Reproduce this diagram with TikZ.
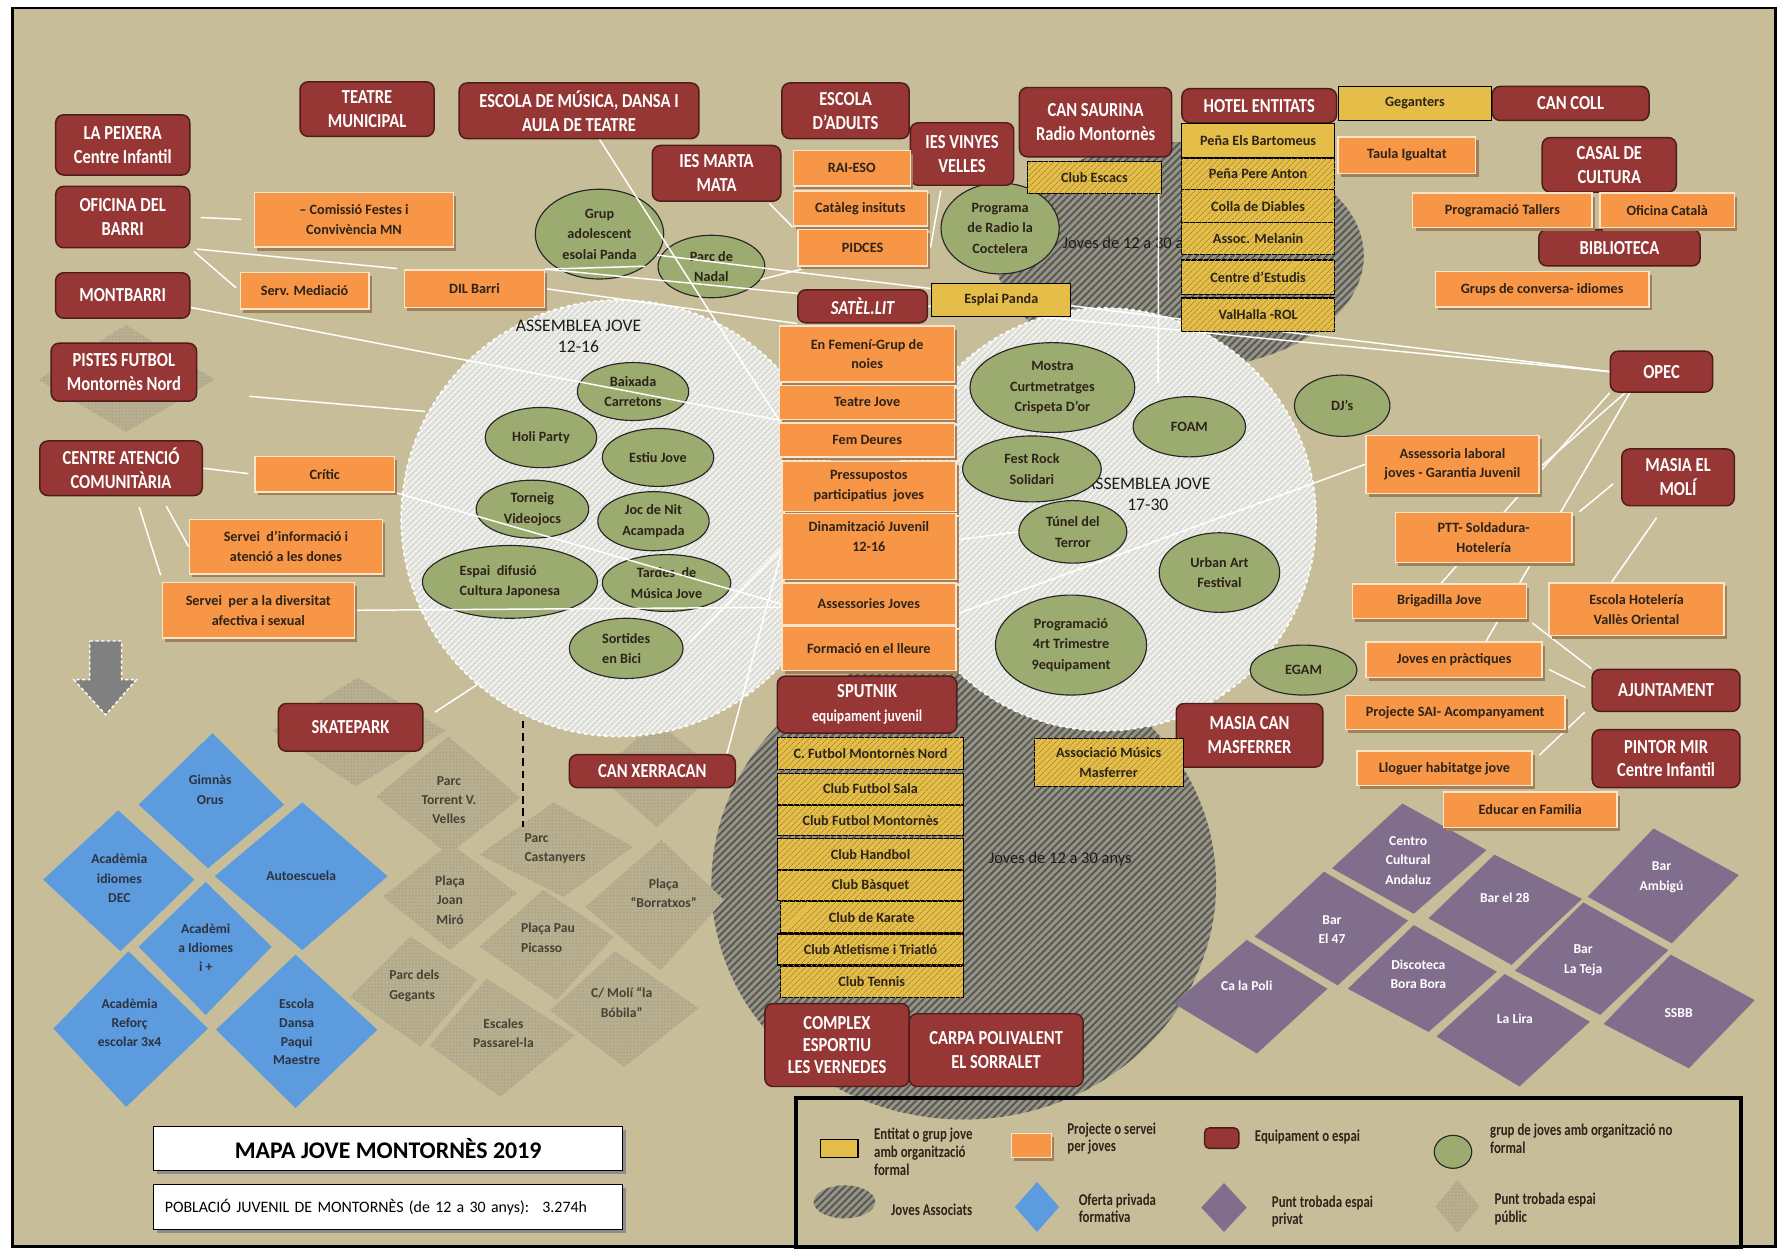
\documentclass[tikz,border=0pt]{standalone}
\usepackage{fontspec}
\setmainfont{Carlito}
\newfontfamily\cf[FakeStretch=0.83]{Carlito}
\newfontfamily\cfl[FakeStretch=0.78]{Carlito}
\usetikzlibrary{shapes.geometric,shadows,patterns.meta,calc}
\definecolor{bgk}{RGB}{199,190,153}
\definecolor{eqc}{RGB}{150,55,53}
\definecolor{eqd}{RGB}{80,28,26}
\definecolor{prc}{RGB}{247,150,70}
\definecolor{prd}{RGB}{253,228,200}
\definecolor{shc}{RGB}{160,128,88}
\definecolor{ylc}{RGB}{228,190,72}
\definecolor{ylh}{RGB}{170,140,50}
\definecolor{grc}{RGB}{156,172,112}
\definecolor{txt}{RGB}{45,35,25}
\definecolor{blc}{RGB}{92,156,222}
\definecolor{puc}{RGB}{128,110,140}
\definecolor{pbc}{RGB}{184,175,144}
\definecolor{pbd}{RGB}{162,153,124}
\definecolor{cic}{RGB}{222,222,216}
\definecolor{blb}{RGB}{150,148,136}
\definecolor{bll}{RGB}{88,88,80}
\definecolor{ptc}{RGB}{72,65,52}
\definecolor{btc}{RGB}{45,50,65}
\definecolor{arrc}{RGB}{128,128,128}
\definecolor{labc}{RGB}{30,28,25}
\newcommand\myeqf{\cf\bfseries\fontsize{17.5}{21}\selectfont}
\newcommand\myprf{\bfseries\fontsize{12.5}{17.5}\selectfont}
\newcommand\mygrf{\bfseries\fontsize{12.5}{18}\selectfont}
\newcommand\mydtf{\bfseries\fontsize{12}{17}\selectfont}
\newcommand\mylgf{\cfl\bfseries\fontsize{14.5}{15.5}\selectfont}
\pgfdeclarelayer{bgl}
\pgfdeclarelayer{midl}
\pgfdeclarelayer{lnl}
\pgfsetlayers{bgl,midl,lnl,main}
\begin{document}
\begin{tikzpicture}[x=1pt,y=-1pt,
  eq/.style={draw=eqd, fill=eqc, rounded corners=7pt, line width=1.3pt, text=white, align=center, font=\myeqf, inner sep=1pt},
  pr/.style={draw=prd, fill=prc, line width=1.3pt, text=txt, align=center, font=\myprf, inner sep=1pt, drop shadow={shadow xshift=2.5pt, shadow yshift=-3pt, fill=shc, opacity=1}},
  yb/.style={draw=black, fill=ylc, line width=1pt, text=txt, align=center, font=\myprf, inner sep=1pt},
  ybh/.style={yb, postaction={pattern={Lines[angle=45,distance=4pt,line width=0.9pt]}, pattern color=ylh}},
  gr/.style={ellipse, draw=black!85, fill=grc, line width=1pt, text=txt, align=center, font=\mygrf, inner sep=0pt},
  cn/.style={draw=white, line width=1.3pt},
  pub/.style={fill=pbc, postaction={pattern={Dots[distance=3pt,radius=0.55pt]}, pattern color=pbd}},
  blu/.style={fill=blc},
  pur/.style={fill=puc},
  ptx/.style={align=center, font=\mydtf, text=ptc},
  btx/.style={align=center, font=\mydtf, text=btc},
  utx/.style={align=center, font=\mydtf, text=white},
  blob/.style={fill=blb, postaction={pattern={Lines[angle=45,distance=4.5pt,line width=1.7pt]}, pattern color=bll}},
  asm/.style={fill=cic, postaction={pattern={Lines[angle=45,distance=4pt,line width=1.3pt]}, pattern color=white}},
  lg/.style={anchor=west, align=left, font=\mylgf, text=txt, inner sep=0pt},
  lab/.style={align=center, font=\fontsize{15.5}{18}\selectfont, text=labc},
  jlab/.style={font=\fontsize{14.5}{17}\selectfont, text=labc}
]
\useasboundingbox (0,0) rectangle (1568,1100);
\begin{pgfonlayer}{bgl}
\fill[white] (0,0) rectangle (1568,1100);
\filldraw[fill=bgk, draw=black, line width=2.5pt] (11,7) rectangle (1562,1097);
% joves associats
\path[blob] (1038,225) ellipse [x radius=162, y radius=100];
\path[blob] (848,778) ellipse [x radius=222, y radius=207];
\node[jlab] (jtop) at (998,215) {Joves de 12 a 30 anys};
\node[jlab] (jbot) at (933,756) {Joves de 12 a 30 anys};
% public spaces
\path[pub] (111,286) -- (189,334) -- (111,380) -- (34,334) -- cycle;
\path[pub] (315,596) -- (392,643) -- (313,692) -- (240,643) -- cycle;
\path[pub] (394.5,648) -- (458,702) -- (394.5,752) -- (331,701) -- cycle;
\path[pub] (487,706) -- (557,745) -- (496,789) -- (422,752) -- cycle;
\path[pub] (396,742) -- (455,786) -- (396,836) -- (337,789) -- cycle;
\path[pub] (582,739) -- (637,792) -- (581,854) -- (515,798) -- cycle;
\path[pub] (478,783) -- (540,824) -- (490,880) -- (422,833) -- cycle;
\path[pub] (361,824) -- (420,862) -- (370,921) -- (308,877) -- cycle;
\path[pub] (428,861) -- (506,911) -- (440,965) -- (378,920) -- cycle;
\path[pub] (541,837) -- (615,887) -- (549,939) -- (484,889) -- cycle;
\path[pub] (578,635) -- (631,678) -- (578,728) -- (525,681) -- cycle;
% private formative
\path[blu] (187,645) -- (250,708) -- (183,764) -- (122,708) -- cycle;
\path[blu] (104,713) -- (171,774) -- (106,837) -- (38,774) -- cycle;
\path[blu] (266,706) -- (341,771) -- (266,836) -- (189,771) -- cycle;
\path[blu] (181,776) -- (239,833) -- (181,893) -- (122,833) -- cycle;
\path[blu] (113,837) -- (183,905) -- (111,974) -- (47,905) -- cycle;
\path[blu] (260,840) -- (332,906) -- (260,975) -- (190,906) -- cycle;
% private meeting points
\path[pur] (1234,707) -- (1308,748) -- (1244,804) -- (1172,764) -- cycle;
\path[pur] (1165,767) -- (1239,810) -- (1177,867) -- (1104,824) -- cycle;
\path[pur] (1097,827) -- (1168,870) -- (1106,927) -- (1033,883) -- cycle;
\path[pur] (1315,752) -- (1392,791) -- (1330,849) -- (1257,808) -- cycle;
\path[pur] (1244,814) -- (1317,855) -- (1257,908) -- (1186,870) -- cycle;
\path[pur] (1455,729) -- (1530,770) -- (1471,830) -- (1397,789) -- cycle;
\path[pur] (1393,794) -- (1468,836) -- (1408,893) -- (1333,854) -- cycle;
\path[pur] (1324,857) -- (1399,899) -- (1337,956) -- (1264,912) -- cycle;
\path[pur] (1470,840) -- (1544,880) -- (1486,940) -- (1411,901) -- cycle;
% assemblies
\path[asm] (545,456) circle [radius=192];
\path[asm] (972,457) circle [radius=186];
\draw[white, dashed, line width=1.5pt] (545,456) circle [radius=192];
\draw[white, dashed, line width=1.5pt] (972,457) circle [radius=186];
\node[lab] (lab1216) at (509,296) {ASSEMBLEA JOVE\\12-16};
\node[lab] (lab1730) at (1010,435) {ASSEMBLEA JOVE\\17-30};
\draw[black, dash pattern=on 7pt off 4pt, line width=1.3pt] (460,634) -- (460,728);
\end{pgfonlayer}

% informal groups
\begin{pgfonlayer}{midl}
\node[gr, minimum width=113, minimum height=79] (grupado) at (527.5,206) {Grup\\adolescent\\esolai Panda};
\node[gr, minimum width=94, minimum height=55] (parcnadal) at (626,234.5) {Parc de\\Nadal};
\node[gr, minimum width=104, minimum height=80] (radio) at (880,201) {Programa\\de Radio la\\Coctelera};
\node[gr, minimum width=98, minimum height=51] (baixada) at (557,344.5) {Baixada\\Carretons};
\node[gr, minimum width=98, minimum height=53] (holi) at (476,385) {Holi Party};
\node[gr, minimum width=98, minimum height=51] (estiu) at (579,402.5) {Estiu Jove};
\node[gr, minimum width=99, minimum height=51] (torneig) at (468.5,448) {Torneig\\Videojocs};
\node[gr, minimum width=98, minimum height=52] (jocnit) at (575,458.6) {Joc de Nit\\Acampada};
\node[gr, minimum width=154, minimum height=64, align=left] (espai) at (448.7,512) {Espai \ difusió\\Cultura Japonesa};
\node[gr, minimum width=113, minimum height=50] (tardes) at (586.5,513) {Tardes \ de\\Música Jove};
\node[gr, minimum width=100, minimum height=53, align=left] (sortides) at (551,570.5) {Sortides\\en Bici};
\node[gr, minimum width=145, minimum height=79] (mostra) at (926,341) {Mostra\\Curtmetratges\\Crispeta D’or};
\node[gr, minimum width=99, minimum height=53] (foam) at (1046.5,375.5) {FOAM};
\node[gr, minimum width=122, minimum height=58] (festrock) at (908,412.6) {Fest Rock\\Solidari};
\node[gr, minimum width=95, minimum height=55] (tunel) at (944,468) {Túnel del\\Terror};
\node[gr, minimum width=106, minimum height=70] (urban) at (1073,503.8) {Urban Art\\Festival};
\node[gr, minimum width=133, minimum height=88] (prog4rt) at (942.4,567.6) {Programació\\4rt Trimestre\\9equipament};
\node[gr, minimum width=94, minimum height=44] (egam) at (1147,589.6) {EGAM};
\node[gr, minimum width=84, minimum height=54] (djs) at (1181,357) {DJ’s};
\end{pgfonlayer}

% texts of meeting points
\node[ptx] (ttorrent) at (395,704) {Parc\\Torrent V.\\Velles};
\node[ptx, anchor=west, align=left] (tcastan) at (458,747) {Parc\\Castanyers};
\node[ptx] (tmiro) at (396,792) {Plaça\\Joan\\Miró};
\node[ptx] (tborrat) at (584,786) {Plaça\\“Borratxos”};
\node[ptx, anchor=west, align=left] (tpicasso) at (455,825) {Plaça Pau\\Picasso};
\node[ptx, anchor=west, align=left] (tgegants) at (339,867.5) {Parc dels\\Gegants};
\node[ptx] (tescales) at (443,909) {Escales\\Passarel-la};
\node[ptx] (tmoli) at (547,882) {C/ Molí “la\\Bóbila”};
\node[btx] (tgimnas) at (185,695) {Gimnàs\\Orus};
\node[btx] (tdec) at (105,773) {Acadèmia\\idiomes\\DEC};
\node[btx] (tauto) at (265,771) {Autoescuela};
\node[btx] (tidiomes) at (181,834) {Acadèmi\\a Idiomes\\i +};
\node[btx] (treforc) at (114,900) {Acadèmia\\Reforç\\escolar 3x4};
\node[btx, font=\bfseries\fontsize{12}{16.5}\selectfont] (tdansa) at (261,908) {Escola\\Dansa\\Paqui\\Maestre};
\node[utx] (tcca) at (1239,757) {Centro\\Cultural\\Andaluz};
\node[utx] (tb47) at (1172,818) {Bar\\El 47};
\node[utx] (tpoli) at (1097,867) {Ca la Poli};
\node[utx] (tb28) at (1324,790) {Bar el 28};
\node[utx] (tbora) at (1248,857) {Discoteca\\Bora Bora};
\node[utx] (tamb) at (1462,772) {Bar\\Ambigú};
\node[utx] (tteja) at (1393,845) {Bar\\La Teja};
\node[utx] (tlira) at (1333,896) {La Lira};
\node[utx] (tssbb) at (1477,891) {SSBB};

% equipments
\node[eq, minimum width=118, minimum height=53] (peixera) at (108,127.5) {LA PEIXERA\\Centre Infantil};
\node[eq, minimum width=118, minimum height=48] (teatre) at (323,96) {TEATRE\\MUNICIPAL};
\node[eq, minimum width=211, minimum height=49] (escmus) at (509.5,97.5) {ESCOLA DE MÚSICA, DANSA I\\AULA DE TEATRE};
\node[eq, minimum width=112, minimum height=49] (escad) at (744,97.5) {ESCOLA\\D’ADULTS};
\node[eq, minimum width=113, minimum height=49] (iesmarta) at (630.5,152.5) {IES MARTA\\MATA};
\node[eq, minimum width=91, minimum height=55] (iesvinyes) at (846.5,135.5) {IES VINYES\\VELLES};
\node[eq, minimum width=134, minimum height=61] (cansaurina) at (964,107.5) {CAN SAURINA\\Radio Montornès};
\node[eq, minimum width=136, minimum height=30] (hotel) at (1108,93) {HOTEL ENTITATS};
\node[eq, minimum width=138, minimum height=30] (cancoll) at (1382,91) {CAN COLL};
\node[eq, minimum width=118, minimum height=48] (casal) at (1416,145) {CASAL DE\\CULTURA};
\node[eq, minimum width=142, minimum height=32] (biblio) at (1425,218) {BIBLIOTECA};
\node[eq, minimum width=118, minimum height=54] (oficina) at (108,191) {OFICINA DEL\\BARRI};
\node[eq, minimum width=118, minimum height=40] (montbarri) at (108,260) {MONTBARRI};
\node[eq, minimum width=128, minimum height=51] (pistes) at (109,327.5) {PISTES FUTBOL\\Montornès Nord};
\node[eq, minimum width=143, minimum height=48] (centre) at (106.5,412) {CENTRE ATENCIÓ\\COMUNITÀRIA};
\node[eq, minimum width=114, minimum height=29] (satelit) at (759,269.5) {\itshape SATÈL.LIT};
\node[eq, minimum width=90, minimum height=36] (opec) at (1462,327) {OPEC};
\node[eq, minimum width=99, minimum height=50] (masiamoli) at (1476.5,420) {MASIA EL\\MOLÍ};
\node[eq, minimum width=130, minimum height=37] (ajunt) at (1466,607.5) {AJUNTAMENT};
\node[eq, minimum width=130, minimum height=51] (pintor) at (1466,667.5) {PINTOR MIR\\Centre Infantil};
\node[eq, minimum width=129, minimum height=56] (masiacan) at (1099.5,647) {MASIA CAN\\MASFERRER};
\node[eq, minimum width=158, minimum height=50] (sputnik) at (763,620) {SPUTNIK\\{\fontsize{14.5}{16}\selectfont equipament juvenil}};
\node[eq, minimum width=127, minimum height=42] (skate) at (308.5,640) {SKATEPARK};
\node[eq, minimum width=146, minimum height=29] (xerracan) at (574,678.5) {CAN XERRACAN};
\node[eq, minimum width=127, minimum height=73, font=\cf\bfseries\fontsize{17.5}{19}\selectfont] (complex) at (736.5,919.5) {COMPLEX\\ESPORTIU\\LES VERNEDES};
\node[eq, minimum width=153, minimum height=64] (carpa) at (876.5,924) {CARPA POLIVALENT\\EL SORRALET};

% projects
\node[pr, minimum width=175, minimum height=48] (comissio) at (311.5,193.5) {– Comissió Festes i\\Convivència MN};
\node[pr, minimum width=113, minimum height=32] (servmed) at (268,256) {Serv. Mediació};
\node[pr, minimum width=123, minimum height=33] (dil) at (417.5,254) {DIL Barri};
\node[pr, minimum width=103, minimum height=31] (raieso) at (749.5,148) {RAI-ESO};
\node[pr, minimum width=118, minimum height=31] (cataleg) at (757,183.5) {Catàleg insituts};
\node[pr, minimum width=114, minimum height=32] (pidces) at (759,218) {PIDCES};
\node[pr, minimum width=121, minimum height=32] (taula) at (1238,136.5) {Taula Igualtat};
\node[pr, minimum width=158, minimum height=30] (progtallers) at (1322,185) {Programació Tallers};
\node[pr, minimum width=118, minimum height=30] (oficat) at (1467,185) {Oficina Català};
\node[pr, minimum width=188, minimum height=31] (grups) at (1357,254.5) {Grups de conversa- idiomes};
\node[pr, minimum width=123, minimum height=31] (critic) at (285.7,417.3) {Crític};
\node[pr, minimum width=170, minimum height=48] (dones) at (251.6,481) {Servei \ d’informació i\\atenció a les dones};
\node[pr, minimum width=169, minimum height=49] (diversitat) at (227.3,537) {Servei \ per a la diversitat\\afectiva i sexual};
\node[pr, minimum width=154, minimum height=49] (femeni) at (763,311.5) {En Femení-Grup de\\noies};
\node[pr, minimum width=154, minimum height=30] (teatrejove) at (763,354) {Teatre Jove};
\node[pr, minimum width=154, minimum height=30] (femdeures) at (763,387) {Fem Deures};
\node[pr, minimum width=153, minimum height=44] (pressup) at (764.5,428) {Pressupostos\\participatius \ joves};
\node[pr, minimum width=153, minimum height=58] (dinam) at (764.5,481) {Dinamització Juvenil\\12-16\\\mbox{}};
\node[pr, minimum width=153, minimum height=37] (assessories) at (764.5,531.4) {Assessories Joves};
\node[pr, minimum width=153, minimum height=39] (formacio) at (764.5,570.7) {Formació en el lleure};
\node[pr, minimum width=152, minimum height=51] (asslaboral) at (1278,408.5) {Assessoria laboral\\joves - Garantia Juvenil};
\node[pr, minimum width=155, minimum height=44] (ptt) at (1305.5,473) {PTT- Soldadura-\\Hotelería};
\node[pr, minimum width=153, minimum height=30] (brigadilla) at (1266.5,529) {Brigadilla Jove};
\node[pr, minimum width=154, minimum height=46] (eschotel) at (1440,536) {Escola Hotelería\\Vallès Oriental};
\node[pr, minimum width=155, minimum height=31] (jovespract) at (1279.5,580.5) {Joves en pràctiques};
\node[pr, minimum width=193, minimum height=30] (sai) at (1280.5,627) {Projecte SAI- Acompanyament};
\node[pr, minimum width=154, minimum height=30] (lloguer) at (1271,676) {Lloguer habitatge jove};
\node[pr, minimum width=153, minimum height=31] (educar) at (1346.5,712.5) {Educar en Familia};

% formal entities
\node[yb, minimum width=134, minimum height=30] (geganters) at (1245,91) {Geganters};
\node[ybh, minimum width=118, minimum height=28] (escacs) at (963,156) {Club Escacs};
\node[yb, minimum width=135, minimum height=30] (bartomeus) at (1107,124) {Peña Els Bartomeus};
\node[ybh, minimum width=135, minimum height=27.5] (pereanton) at (1107,153) {Peña Pere Anton};
\node[ybh, minimum width=135, minimum height=29] (colla) at (1107,181.5) {Colla de Diables};
\node[ybh, minimum width=135, minimum height=28] (melanin) at (1107,210) {Assoc. Melanin};
\node[ybh, minimum width=135, minimum height=30] (estudis) at (1107,243.75) {Centre d’Estudis};
\node[ybh, minimum width=135, minimum height=29.5] (valhalla) at (1107,277) {ValHalla -ROL};
\node[yb, minimum width=122, minimum height=29] (esplai) at (881,264) {Esplai Panda};
\node[ybh, minimum width=163, minimum height=28.6] (cfmnord) at (766,663) {C. Futbol Montornès Nord};
\node[ybh, minimum width=163, minimum height=27.3] (futsala) at (766,694) {Club Futbol Sala};
\node[ybh, minimum width=163, minimum height=27] (cfmontornes) at (766,722) {Club Futbol Montornès};
\node[ybh, minimum width=163, minimum height=28] (handbol) at (766,751.5) {Club Handbol};
\node[ybh, minimum width=163, minimum height=27] (basquet) at (766,779) {Club Bàsquet};
\node[ybh, minimum width=161, minimum height=27.3] (karate) at (767,807) {Club de Karate};
\node[ybh, minimum width=163, minimum height=27.3] (atletisme) at (766,835.5) {Club Atletisme i Triatló};
\node[ybh, minimum width=161, minimum height=27.4] (tennis) at (767,864) {Club Tennis};
\node[ybh, minimum width=131, minimum height=42] (assmusics) at (975.5,670.7) {Associació Músics\\Masferrer};

% free ends
\coordinate (a1216w) at (374,362);
\coordinate (a1216s) at (422,601);
\coordinate (escfoam) at (1019,337);

% connectors
\begin{pgfonlayer}{lnl}
\draw[cn, shorten <=9pt, shorten >=11pt] (oficina.east) -- (comissio.west);
\draw[cn, shorten <=4pt, shorten >=4pt] (oficina.south east) -- (servmed.west);
\draw[cn, shorten <=6pt, shorten >=6pt] (oficina.south east) -- (dil.north west);
\draw[cn] (dil.north east) -- (grupado.south east);
\draw[cn] (dil.east) -- (satelit.south west);
\draw[cn] (grupado.-20) -- (opec.west);
\draw[cn] (dil.north east) -- (opec.west);
\draw[cn] (montbarri.-10) -- (teatrejove.south west);
\draw[cn, shorten <=46pt] (pistes.-15) -- (a1216w);
\draw[cn] ([xshift=18pt]escmus.south) -- (teatrejove.south west);
\draw[cn, shorten <=2pt] ([xshift=-12pt]iesmarta.south east) -- (cataleg.south west);
\draw[cn, shorten <=4pt] ([xshift=-18pt]iesvinyes.south) -- ([xshift=2pt]pidces.east);
\draw[cn] (parcnadal.-15) -- ([xshift=12pt]pidces.south west);
\draw[cn] ([xshift=-3pt]escacs.south east) -- (escfoam);
\draw[cn, shorten >=5pt] (centre.east) -- (critic.west);
\draw[cn, shorten <=10pt] ([xshift=35pt]centre.south) -- (dones.west);
\draw[cn, shorten <=10pt, shorten >=6pt] ([xshift=13pt]centre.south) -- ([xshift=1pt]diversitat.north west);
\draw[cn] (critic.south east) -- (assessories.west);
\draw[cn] (diversitat.east) -- ([yshift=-3pt]assessories.west);
\draw[cn, shorten <=12pt] (skate.6) -- (a1216s);
\draw[cn] ([xshift=-8pt]xerracan.north east) -- ([yshift=-6pt]dinam.west);
\draw[cn, shorten <=8pt] (sortides.east) -- ([yshift=-2pt]dinam.west);
\draw[cn] ([yshift=6pt]dinam.east) -- (tunel.west);
\draw[cn] ([yshift=-9pt]assessories.east) -- (asslaboral.west);
\draw[cn] (opec.south west) -- ([xshift=1.5pt]brigadilla.north);
\draw[cn] ([xshift=-32pt]opec.south) -- ([yshift=-3pt]asslaboral.east);
\draw[cn] ([xshift=-28pt]opec.south) -- ([xshift=28pt]jovespract.north);
\draw[cn, shorten <=9pt] (masiamoli.west) -- ([xshift=6pt]ptt.north east);
\draw[cn, shorten <=12pt] ([xshift=-12pt]masiamoli.south) -- ([xshift=-22pt]eschotel.north);
\draw[cn, shorten <=6pt] (brigadilla.south east) -- (ajunt.north west);
\draw[cn, shorten <=6pt, shorten >=6pt] ([yshift=-6pt]jovespract.east) -- (ajunt.west);
\draw[cn, shorten <=8pt] ([yshift=6pt]lloguer.east) -- ([xshift=-6pt]ajunt.south west);
\end{pgfonlayer}

% arrow
\filldraw[fill=arrc, draw=white, densely dashed, line width=1.2pt] (79,564) -- (107,564) -- (107,598) -- (120,598) -- (93,629) -- (65,598) -- (79,598) -- cycle;

% title boxes
\node[draw=black, fill=white, line width=1pt, minimum width=413, minimum height=39, inner sep=0pt, drop shadow={shadow xshift=3pt, shadow yshift=-3pt, fill=black!45, opacity=1}, font=\bfseries\fontsize{21}{24}\selectfont, text=black] (title) at (341.5,1010.5) {MAPA JOVE MONTORNÈS 2019};
\node[draw=black, fill=white, line width=1pt, minimum height=40, inner xsep=10pt, inner ysep=0pt, text width=393, align=left, drop shadow={shadow xshift=3pt, shadow yshift=-3pt, fill=black!45, opacity=1}, font=\fontsize{14}{17}\selectfont, text=black] (pobl) at (341.5,1062) {POBLACIÓ JUVENIL DE MONTORNÈS (de 12 a 30 anys): \ 3.274h};

% legend
\draw[black, line width=3.5pt] (700,966) rectangle (1532,1097);
\node[draw=black, fill=ylc, line width=1pt, minimum width=33, minimum height=16, inner sep=0pt] (lgy) at (738.5,1010.5) {};
\node[lg] (lgyt) at (769,1013.5) {Entitat o grup jove\\amb organització\\formal};
\node[pr, minimum width=35, minimum height=21, inner sep=0pt] (lgo) at (907.5,1008) {};
\node[lg] (lgot) at (939,1002) {Projecte o servei\\per joves};
\node[eq, minimum width=30, minimum height=18, rounded corners=4pt, inner sep=0pt] (lgm) at (1075,1001.5) {};
\node[lg] (lgmt) at (1104,1000.5) {Equipament o espai};
\node[gr, minimum width=33, minimum height=29] (lgg) at (1278.5,1013.5) {};
\node[lg] (lggt) at (1311,1002) {grup de joves amb organització no\\formal};
\path[blob] (743,1057.5) ellipse [x radius=27, y radius=14.5];
\node[lg] (lgbt) at (784,1064.5) {Joves Associats};
\path[blu] (912.5,1040) -- (932,1062) -- (912.5,1084) -- (893,1062) -- cycle;
\node[lg] (lgft) at (949,1063) {Oferta privada\\formativa};
\path[pur] (1077,1041) -- (1097,1062.5) -- (1077,1084) -- (1057,1062.5) -- cycle;
\node[lg] (lgpt) at (1119,1066) {Punt trobada espai\\privat};
\path[pub] (1282.5,1038) -- (1302,1061.5) -- (1282.5,1085) -- (1263,1061.5) -- cycle;
\node[lg] (lgut) at (1315,1064) {Punt trobada espai\\públic};
\end{tikzpicture}
\end{document}
